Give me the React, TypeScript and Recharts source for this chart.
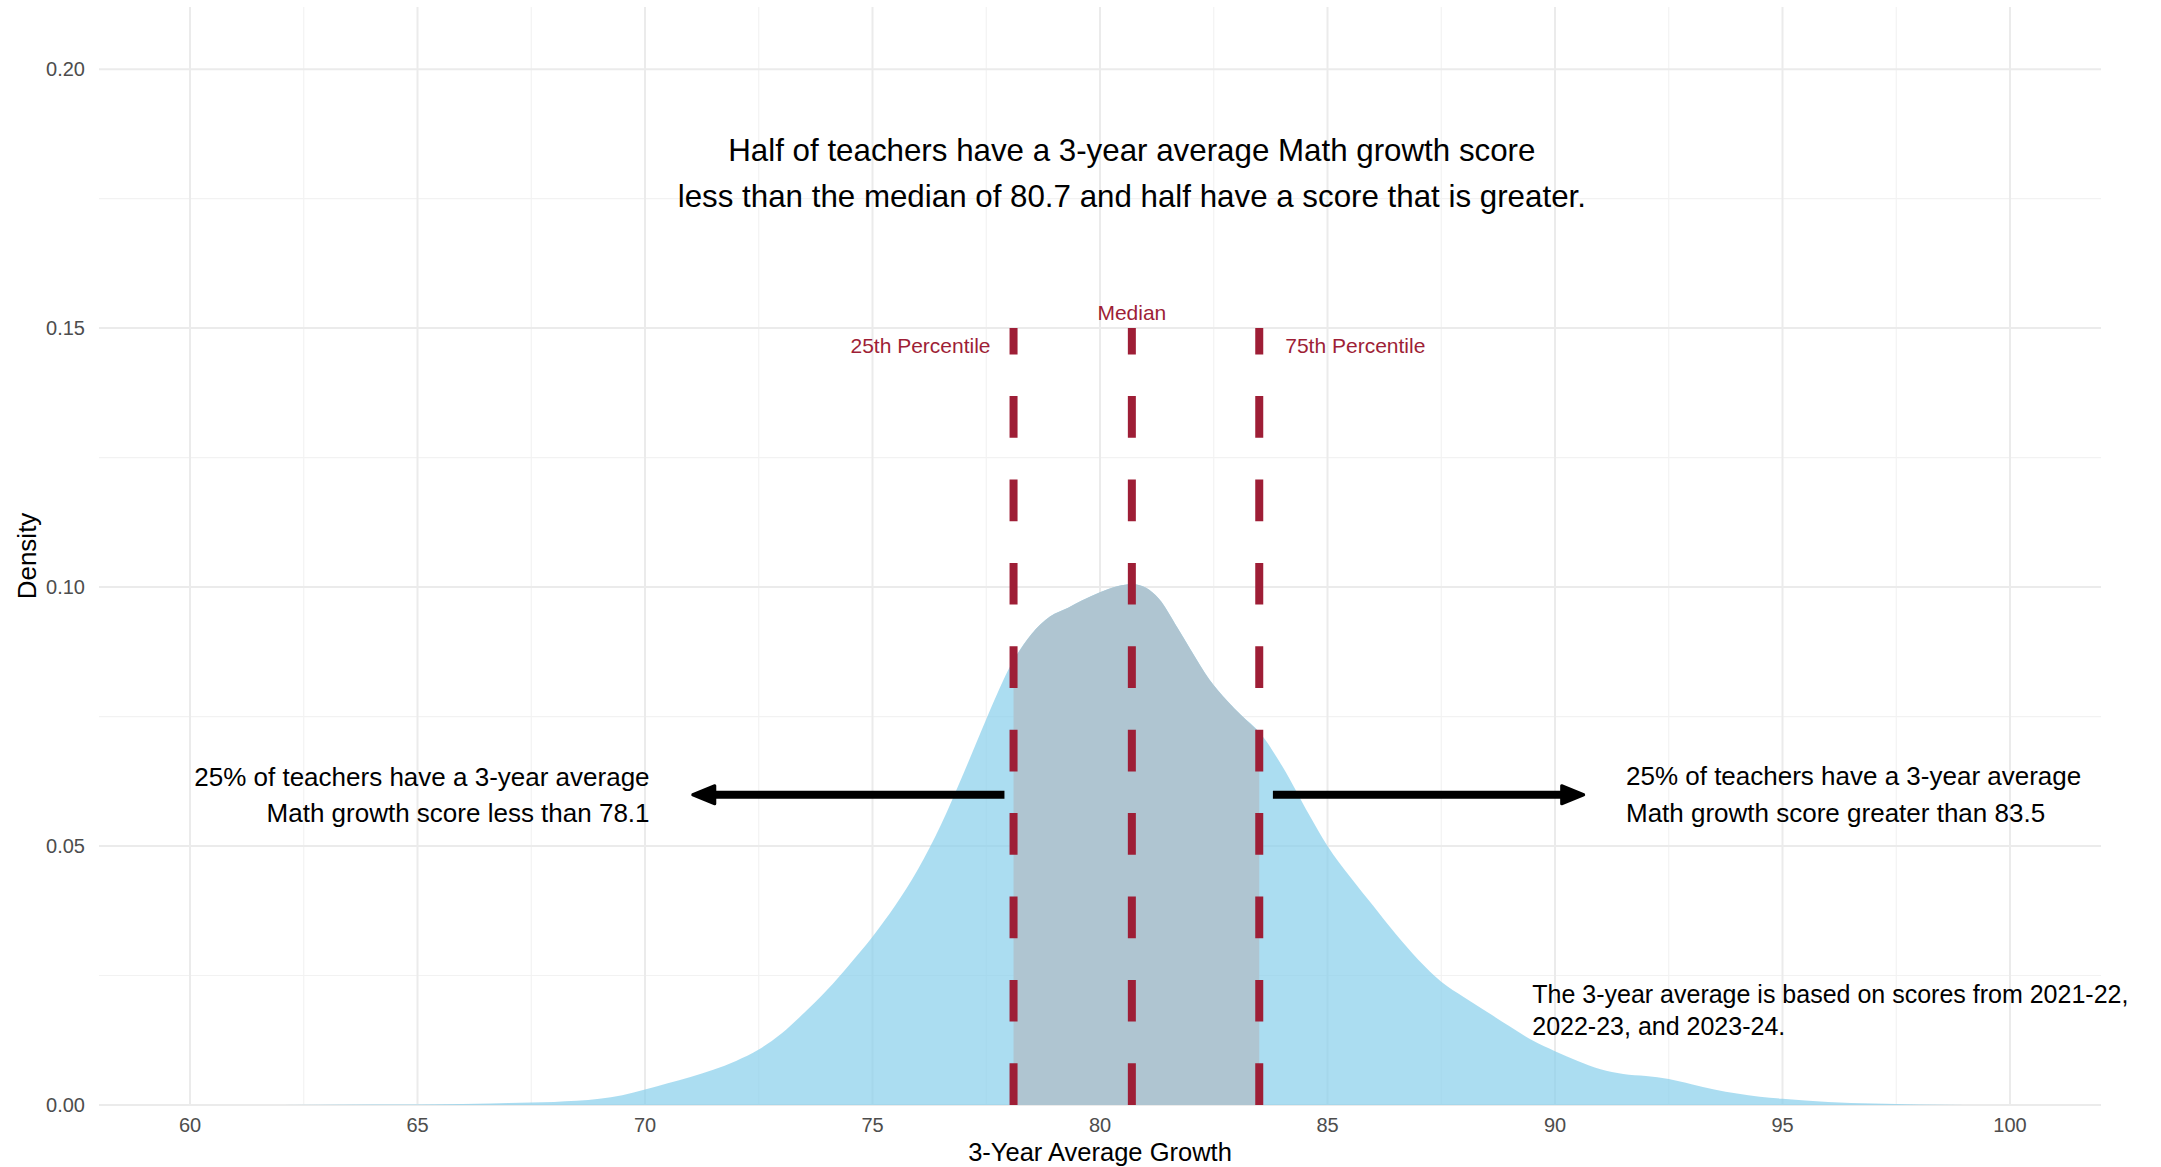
import React from "react";
import {
  ComposedChart,
  Area,
  XAxis,
  YAxis,
  CartesianGrid,
  ReferenceLine,
  ReferenceDot,
} from "recharts";

// ---- data ----
const scores = [
  60, 62, 64, 65, 66, 66.6, 67, 68, 68.5, 69, 69.5, 70, 70.5, 71, 71.5, 72, 72.5, 73, 73.5, 74,
  74.5, 75, 75.5, 76, 76.5, 77, 77.5, 78.1, 78.5, 78.9, 79.3, 79.6, 80.0, 80.4, 80.7, 81.0, 81.3,
  81.7, 82.0, 82.4, 82.8, 83.1, 83.5, 84.0, 84.6, 85.0, 85.5, 86.0, 86.5, 87.0, 87.5, 88.0, 88.5,
  89.0, 89.5, 90.0, 90.5, 91.0, 91.5, 92.0, 92.5, 93.0, 93.5, 94.0, 94.5, 95.0, 96.0, 97.0, 98.0,
  99.0, 100,
];
const densities = [
  0, 0, 0.0001, 0.0001, 0.0002, 0.0003, 0.0004, 0.0006, 0.0008, 0.0012, 0.0019, 0.003, 0.0042,
  0.0054, 0.0068, 0.0085, 0.0107, 0.0138, 0.0178, 0.0222, 0.0272, 0.0325, 0.0385, 0.0455, 0.054,
  0.064, 0.0745, 0.0859, 0.091, 0.0943, 0.096, 0.0974, 0.099, 0.1002, 0.1006, 0.0999, 0.0977,
  0.0922, 0.0878, 0.0822, 0.078, 0.0753, 0.072, 0.0655, 0.056, 0.05, 0.044, 0.0385, 0.033, 0.028,
  0.0238, 0.0208, 0.018, 0.0152, 0.0125, 0.0104, 0.0085, 0.0069, 0.006, 0.0056, 0.005, 0.004,
  0.003, 0.0022, 0.0016, 0.0012, 0.0006, 0.0003, 0.0001, 0, 0,
];
const p25 = 78.1;
const medianValue = 80.7;
const p75 = 83.5;

const xTicks = [60, 65, 70, 75, 80, 85, 90, 95, 100];
const xMinor = [62.5, 67.5, 72.5, 77.5, 82.5, 87.5, 92.5, 97.5];
const yTicks = [0, 0.05, 0.1, 0.15, 0.2];
const yMinor = [0.025, 0.075, 0.125, 0.175];

const titleLines = [
  "Half of teachers have a 3-year average Math growth score",
  "less than the median of 80.7 and half have a score that is greater.",
];
const leftNote = ["25% of teachers have a 3-year average", "Math growth score less than 78.1"];
const rightNote = ["25% of teachers have a 3-year average", "Math growth score greater than 83.5"];
const footNote = ["The 3-year average is based on scores from 2021-22,", "2022-23, and 2023-24."];

const data = scores.map((x, i) => ({
  x,
  density: densities[i],
  iqr: x >= p25 && x <= p75 ? densities[i] : null,
}));

const FONT = "'Liberation Sans', Arial, Helvetica, sans-serif";
const RED = "#9e1e36";

const textShape =
  (lines: string[], opts: { anchor: string; size: number; color: string; gap: number; dx?: number }) =>
  (p: any) => {
    const x = p.cx + (opts.dx || 0);
    return (
      <text
        x={x}
        y={p.cy}
        textAnchor={opts.anchor as any}
        fontFamily={FONT}
        fontSize={opts.size}
        fill={opts.color}
      >
        {lines.map((l, i) => (
          <tspan key={i} x={x} dy={i === 0 ? 0 : opts.gap}>
            {l}
          </tspan>
        ))}
      </text>
    );
  };

const arrowShape = (p: any) => {
  const { x1, y1, x2, y2 } = p;
  const dir = Math.sign(x2 - x1);
  const headLen = 22;
  const half = 9;
  const baseX = x2 - dir * headLen;
  return (
    <g>
      <line x1={x1} y1={y1} x2={baseX + dir * 2} y2={y2} stroke="#000" strokeWidth={8} />
      <polygon
        points={`${x2},${y2} ${baseX},${y2 - half} ${baseX},${y2 + half}`}
        fill="#000"
        stroke="#000"
        strokeWidth={3}
        strokeLinejoin="round"
      />
    </g>
  );
};

export default function App() {
  return (
    <div
      style={{
        position: "absolute",
        left: 0,
        top: 0,
        width: 2161,
        height: 1167,
        overflow: "hidden",
        background: "#fff",
      }}
    >
      <ComposedChart
        width={2161}
        height={1167}
        data={data}
        margin={{ top: 7, right: 60, bottom: 0, left: 0 }}
      >
        <CartesianGrid
          horizontalValues={yMinor}
          verticalValues={xMinor}
          stroke="#f2f2f2"
          strokeWidth={1.2}
        />
        <CartesianGrid
          horizontalValues={yTicks}
          verticalValues={xTicks}
          stroke="#ebebeb"
          strokeWidth={2}
        />
        <XAxis
          dataKey="x"
          type="number"
          domain={[58, 102]}
          ticks={xTicks}
          allowDataOverflow
          height={62}
          axisLine={false}
          tickLine={false}
          tickSize={0}
          tickMargin={13}
          tick={{ fontFamily: FONT, fontSize: 20, fill: "#4d4d4d" }}
          label={{
            content: (props: any) => {
              const vb = props.viewBox || { x: 99, y: 1105, width: 2002 };
              return (
                <text
                  x={vb.x + vb.width / 2}
                  y={vb.y + 55.7}
                  textAnchor="middle"
                  fontFamily={FONT}
                  fontSize={25.5}
                  fill="#000"
                >
                  3-Year Average Growth
                </text>
              );
            },
          }}
        />
        <YAxis
          type="number"
          domain={[0, 0.212]}
          ticks={yTicks}
          allowDataOverflow
          width={99}
          axisLine={false}
          tickLine={false}
          tickSize={0}
          tickMargin={14}
          tickFormatter={(v: number) => v.toFixed(2)}
          tick={{ fontFamily: FONT, fontSize: 20, fill: "#4d4d4d" }}
          label={{
            content: (props: any) => {
              const vb = props.viewBox || { x: 0, y: 7, height: 1098 };
              const cx = vb.x + 36;
              const cy = vb.y + vb.height / 2;
              return (
                <text
                  transform={`translate(${cx},${cy}) rotate(-90)`}
                  textAnchor="middle"
                  fontFamily={FONT}
                  fontSize={26}
                  fill="#000"
                >
                  Density
                </text>
              );
            },
          }}
        />
        <Area
          type="monotone"
          dataKey="density"
          stroke="none"
          fill="#87ceeb"
          fillOpacity={0.7}
          baseValue={0}
          isAnimationActive={false}
        />
        <Area
          type="monotone"
          dataKey="iqr"
          stroke="none"
          fill="#afc5d1"
          fillOpacity={1}
          baseValue={0}
          connectNulls={false}
          isAnimationActive={false}
        />
        {[p25, medianValue, p75].map((q) => (
          <ReferenceLine
            key={q}
            segment={[
              { x: q, y: 0 },
              { x: q, y: 0.15 },
            ]}
            stroke={RED}
            strokeWidth={8}
            strokeDasharray="41.7 41.7"
          />
        ))}
        <ReferenceLine
          segment={[
            { x: 77.9, y: 0.0599 },
            { x: 71.05, y: 0.0599 },
          ]}
          shape={arrowShape}
        />
        <ReferenceLine
          segment={[
            { x: 83.8, y: 0.0599 },
            { x: 90.63, y: 0.0599 },
          ]}
          shape={arrowShape}
        />
        <ReferenceDot
          x={medianValue}
          y={0.1822}
          r={0}
          shape={textShape(titleLines, { anchor: "middle", size: 31.3, color: "#000", gap: 46 })}
        />
        <ReferenceDot
          x={medianValue}
          y={0.1515}
          r={0}
          shape={textShape(["Median"], { anchor: "middle", size: 21, color: RED, gap: 0 })}
        />
        <ReferenceDot
          x={p25}
          y={0.1452}
          r={0}
          shape={textShape(["25th Percentile"], { anchor: "end", size: 21, color: RED, gap: 0, dx: -23 })}
        />
        <ReferenceDot
          x={p75}
          y={0.1452}
          r={0}
          shape={textShape(["75th Percentile"], { anchor: "start", size: 21, color: RED, gap: 0, dx: 26 })}
        />
        <ReferenceDot
          x={70.1}
          y={0.0616}
          r={0}
          shape={textShape(leftNote, { anchor: "end", size: 26, color: "#000", gap: 36 })}
        />
        <ReferenceDot
          x={91.56}
          y={0.0618}
          r={0}
          shape={textShape(rightNote, { anchor: "start", size: 26, color: "#000", gap: 37 })}
        />
        <ReferenceDot
          x={89.5}
          y={0.0197}
          r={0}
          shape={textShape(footNote, { anchor: "start", size: 25, color: "#000", gap: 32 })}
        />
      </ComposedChart>
    </div>
  );
}
